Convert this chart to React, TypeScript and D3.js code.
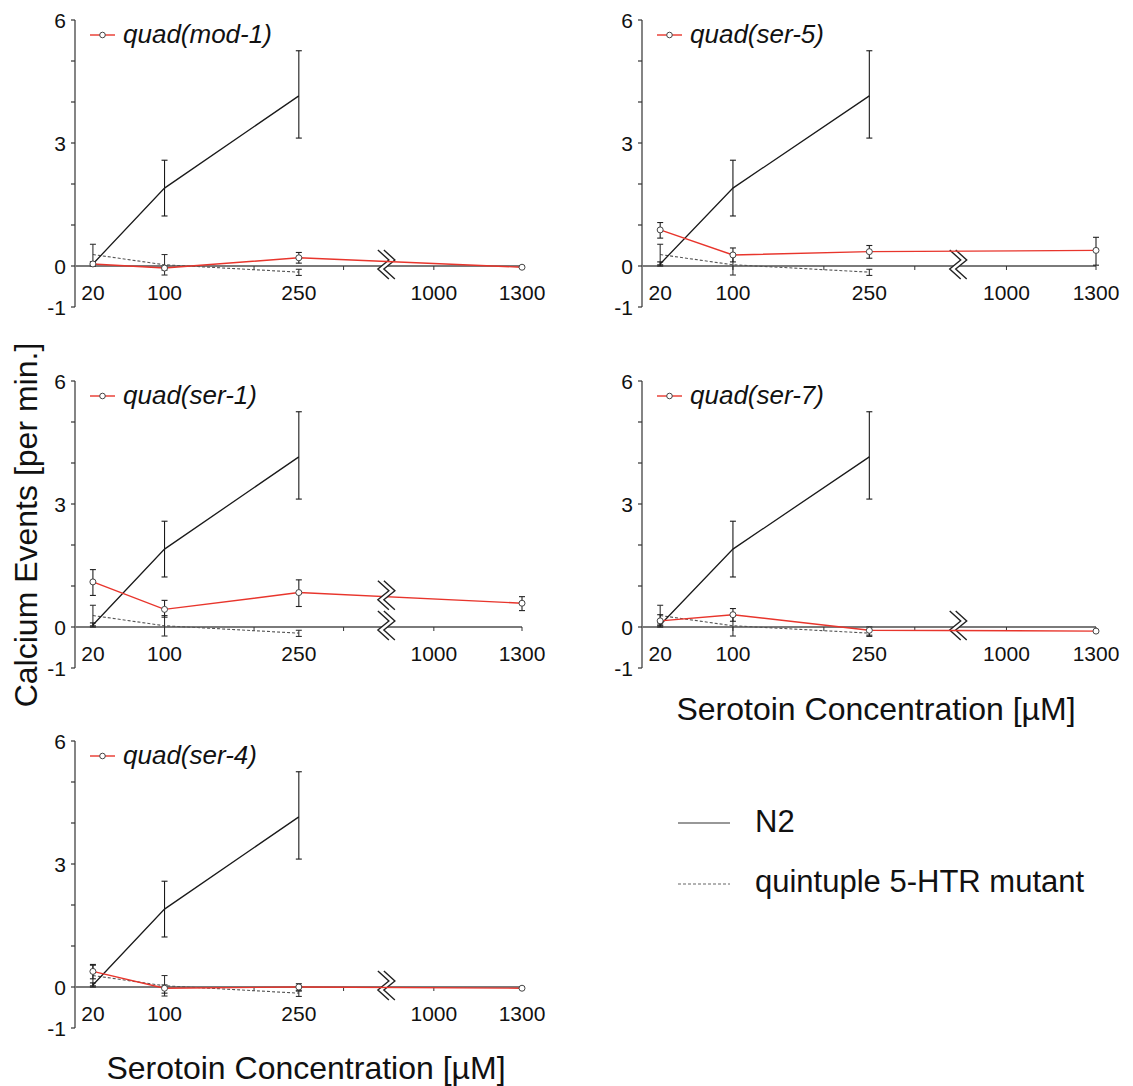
import React from "react";
import * as d3 from "d3";

// ---------- data ----------
const n2Conc = [20, 100, 250];
const n2Mean = [0.05, 1.9, 4.15];
const n2Lo = [0.0, 1.22, 3.12];
const n2Hi = [0.1, 2.58, 5.25];

const quintConc = [20, 100, 250];
const quintMean = [0.28, 0.03, -0.15];
const quintLo = [0.03, -0.22, -0.23];
const quintHi = [0.53, 0.28, -0.08];

const mutConc = [20, 100, 250, 1300];

const mod1Mean = [0.05, -0.05, 0.2, -0.03];
const mod1Lo = [0.0, -0.1, 0.07, -0.03];
const mod1Hi = [0.1, 0.0, 0.33, -0.03];

const ser5Mean = [0.88, 0.27, 0.35, 0.38];
const ser5Lo = [0.68, 0.1, 0.19, 0.02];
const ser5Hi = [1.06, 0.44, 0.5, 0.7];

const ser1Mean = [1.1, 0.43, 0.84, 0.58];
const ser1Lo = [0.77, 0.24, 0.5, 0.4];
const ser1Hi = [1.4, 0.65, 1.15, 0.74];

const ser7Mean = [0.15, 0.3, -0.08, -0.1];
const ser7Lo = [0.05, 0.14, -0.2, -0.1];
const ser7Hi = [0.3, 0.45, 0.0, -0.1];

const ser4Mean = [0.38, -0.03, 0.0, -0.03];
const ser4Lo = [0.2, -0.15, -0.1, -0.03];
const ser4Hi = [0.55, 0.05, 0.08, -0.03];

const xTickLabels = [20, 100, 250, 1000, 1300];
const xMinorTicks = [100, 200, 300, 1000, 1300];
const yTicks = [-1, 0, 1, 2, 3, 4, 5, 6];
const yTickLabels = [-1, 0, 3, 6];

const mutants = [
  { name: "quad(mod-1)", mean: mod1Mean, lo: mod1Lo, hi: mod1Hi, lineBreak: false },
  { name: "quad(ser-5)", mean: ser5Mean, lo: ser5Lo, hi: ser5Hi, lineBreak: false },
  { name: "quad(ser-1)", mean: ser1Mean, lo: ser1Lo, hi: ser1Hi, lineBreak: true },
  { name: "quad(ser-7)", mean: ser7Mean, lo: ser7Lo, hi: ser7Hi, lineBreak: false },
  { name: "quad(ser-4)", mean: ser4Mean, lo: ser4Lo, hi: ser4Hi, lineBreak: false },
];

// ---------- layout ----------
const layout = [
  { axisX: 75, top: 20, width: 447 },
  { axisX: 642, top: 20, width: 454 },
  { axisX: 75, top: 381, width: 447 },
  { axisX: 642, top: 381, width: 454 },
  { axisX: 75, top: 741, width: 447 },
];
const PANEL_H = 287;
const FONT = "'Liberation Sans', Arial, Helvetica, sans-serif";
const RED = "#e8352c";
const BREAK_LO = 345;
const BREAK_HI = 830;

function ErrorBars({ xs, lo, hi, x, y, color }) {
  return (
    <g stroke={color} strokeWidth={1.1}>
      {xs.map((c, i) =>
        hi[i] - lo[i] > 0.001 ? (
          <g key={i}>
            <line x1={x(c)} x2={x(c)} y1={y(lo[i])} y2={y(hi[i])} />
            <line x1={x(c) - 3} x2={x(c) + 3} y1={y(lo[i])} y2={y(lo[i])} />
            <line x1={x(c) - 3} x2={x(c) + 3} y1={y(hi[i])} y2={y(hi[i])} />
          </g>
        ) : null
      )}
    </g>
  );
}

function BreakMark({ cx, cy }) {
  const zig = (dx) =>
    [
      [-7 + dx, -16],
      [4 + dx, -6],
      [-7 + dx, 3],
      [4 + dx, 13],
    ];
  const a = zig(0);
  const b = zig(6);
  const fillPts = [...a, ...b.slice().reverse()]
    .map((p) => `${cx + p[0]},${cy + p[1]}`)
    .join(" ");
  const line = d3.line();
  return (
    <g>
      <polygon points={fillPts} fill="white" stroke="none" />
      <path d={line(a.map((p) => [cx + p[0], cy + p[1]]))} fill="none" stroke="#222" strokeWidth={1.4} />
      <path d={line(b.map((p) => [cx + p[0], cy + p[1]]))} fill="none" stroke="#222" strokeWidth={1.4} />
    </g>
  );
}

function Panel({ mutant, pos }) {
  const W = pos.width;
  const x = d3
    .scaleLinear()
    .domain([0, BREAK_LO, BREAK_HI, 1300])
    .range([0, 0.691 * W, 0.691 * W, W]);
  const y = d3.scaleLinear().domain([-1, 6]).range([PANEL_H, 0]);
  const line = d3
    .line()
    .x((d) => x(d[0]))
    .y((d) => y(d[1]));

  const n2Pts = n2Conc.map((c, i) => [c, n2Mean[i]]);
  const qPts = quintConc.map((c, i) => [c, quintMean[i]]);
  const mPts = mutConc.map((c, i) => [c, mutant.mean[i]]);
  const bx = x(BREAK_LO) + 1;

  const xa = x(mutConc[2]);
  const xb = x(mutConc[3]);
  const ya = y(mutant.mean[2]);
  const yb = y(mutant.mean[3]);
  const lineYAtBreak = ya + ((bx - xa) / (xb - xa)) * (yb - ya);

  return (
    <g transform={`translate(${pos.axisX},${pos.top})`}>
      {/* y axis */}
      <line x1={0} x2={0} y1={y(-1)} y2={y(6)} stroke="#333" strokeWidth={1.2} />
      {yTicks.map((t) => (
        <line key={t} x1={-4} x2={0} y1={y(t)} y2={y(t)} stroke="#333" strokeWidth={1.2} />
      ))}
      {yTickLabels.map((t) => (
        <text key={t} x={-9} y={y(t)} dy="0.36em" textAnchor="end" fontSize={21} fontFamily={FONT} fill="#111">
          {t}
        </text>
      ))}
      {/* x axis */}
      <line x1={0} x2={x(1300)} y1={y(0)} y2={y(0)} stroke="#7a7a7a" strokeWidth={2} />
      {xMinorTicks.map((t) => (
        <line key={t} x1={x(t)} x2={x(t)} y1={y(0)} y2={y(0) + 4} stroke="#333" strokeWidth={1} />
      ))}
      {xTickLabels.map((t) => (
        <text key={t} x={x(t)} y={y(0) + 34} textAnchor="middle" fontSize={21} fontFamily={FONT} fill="#111">
          {t}
        </text>
      ))}
      <BreakMark cx={bx} cy={y(0)} />

      {/* quintuple mutant */}
      <path d={line(qPts)} fill="none" stroke="#555" strokeWidth={1.1} strokeDasharray="3,2" />
      <ErrorBars xs={quintConc} lo={quintLo} hi={quintHi} x={x} y={y} color="#333" />

      {/* N2 */}
      <path d={line(n2Pts)} fill="none" stroke="#1a1a1a" strokeWidth={1.3} />
      <ErrorBars xs={n2Conc} lo={n2Lo} hi={n2Hi} x={x} y={y} color="#1a1a1a" />

      {/* mutant */}
      <path d={line(mPts)} fill="none" stroke={RED} strokeWidth={1.4} />
      <ErrorBars xs={mutConc} lo={mutant.lo} hi={mutant.hi} x={x} y={y} color="#222" />
      {mutant.lineBreak && <BreakMark cx={bx} cy={lineYAtBreak} />}
      {mPts.map((p, i) => (
        <circle key={i} cx={x(p[0])} cy={y(p[1])} r={3} fill="white" stroke="#444" strokeWidth={1} />
      ))}

      {/* in-panel legend */}
      <line x1={15} x2={40} y1={15} y2={15} stroke={RED} strokeWidth={1.4} />
      <circle cx={27.5} cy={15} r={2.8} fill="white" stroke="#444" strokeWidth={1} />
      <text x={48} y={23} fontSize={26} fontStyle="italic" fontFamily={FONT} fill="#111">
        {mutant.name}
      </text>
    </g>
  );
}

export default function App() {
  return (
    <svg width={1133} height={1086} style={{ display: "block", position: "absolute", left: 0, top: 0, background: "white" }}>
      <rect x={0} y={0} width={1133} height={1086} fill="white" />
      {mutants.map((m, i) => (
        <Panel key={m.name} mutant={m} pos={layout[i]} />
      ))}
      <text
        transform="translate(37,525) rotate(-90)"
        textAnchor="middle"
        fontSize={32}
        fontFamily={FONT}
        fill="#111"
      >
        Calcium Events [per min.]
      </text>
      <text x={876} y={720} textAnchor="middle" fontSize={32} fontFamily={FONT} fill="#111">
        Serotoin Concentration [µM]
      </text>
      <text x={306} y={1079} textAnchor="middle" fontSize={32} fontFamily={FONT} fill="#111">
        Serotoin Concentration [µM]
      </text>
      {/* bottom legend */}
      <line x1={678} x2={730} y1={823} y2={823} stroke="#333" strokeWidth={1.2} />
      <text x={755} y={832} fontSize={31} fontFamily={FONT} fill="#111">
        N2
      </text>
      <line x1={678} x2={730} y1={884} y2={884} stroke="#666" strokeWidth={1.1} strokeDasharray="3,2" />
      <text x={755} y={892} fontSize={31} fontFamily={FONT} fill="#111">
        quintuple 5-HTR mutant
      </text>
    </svg>
  );
}
